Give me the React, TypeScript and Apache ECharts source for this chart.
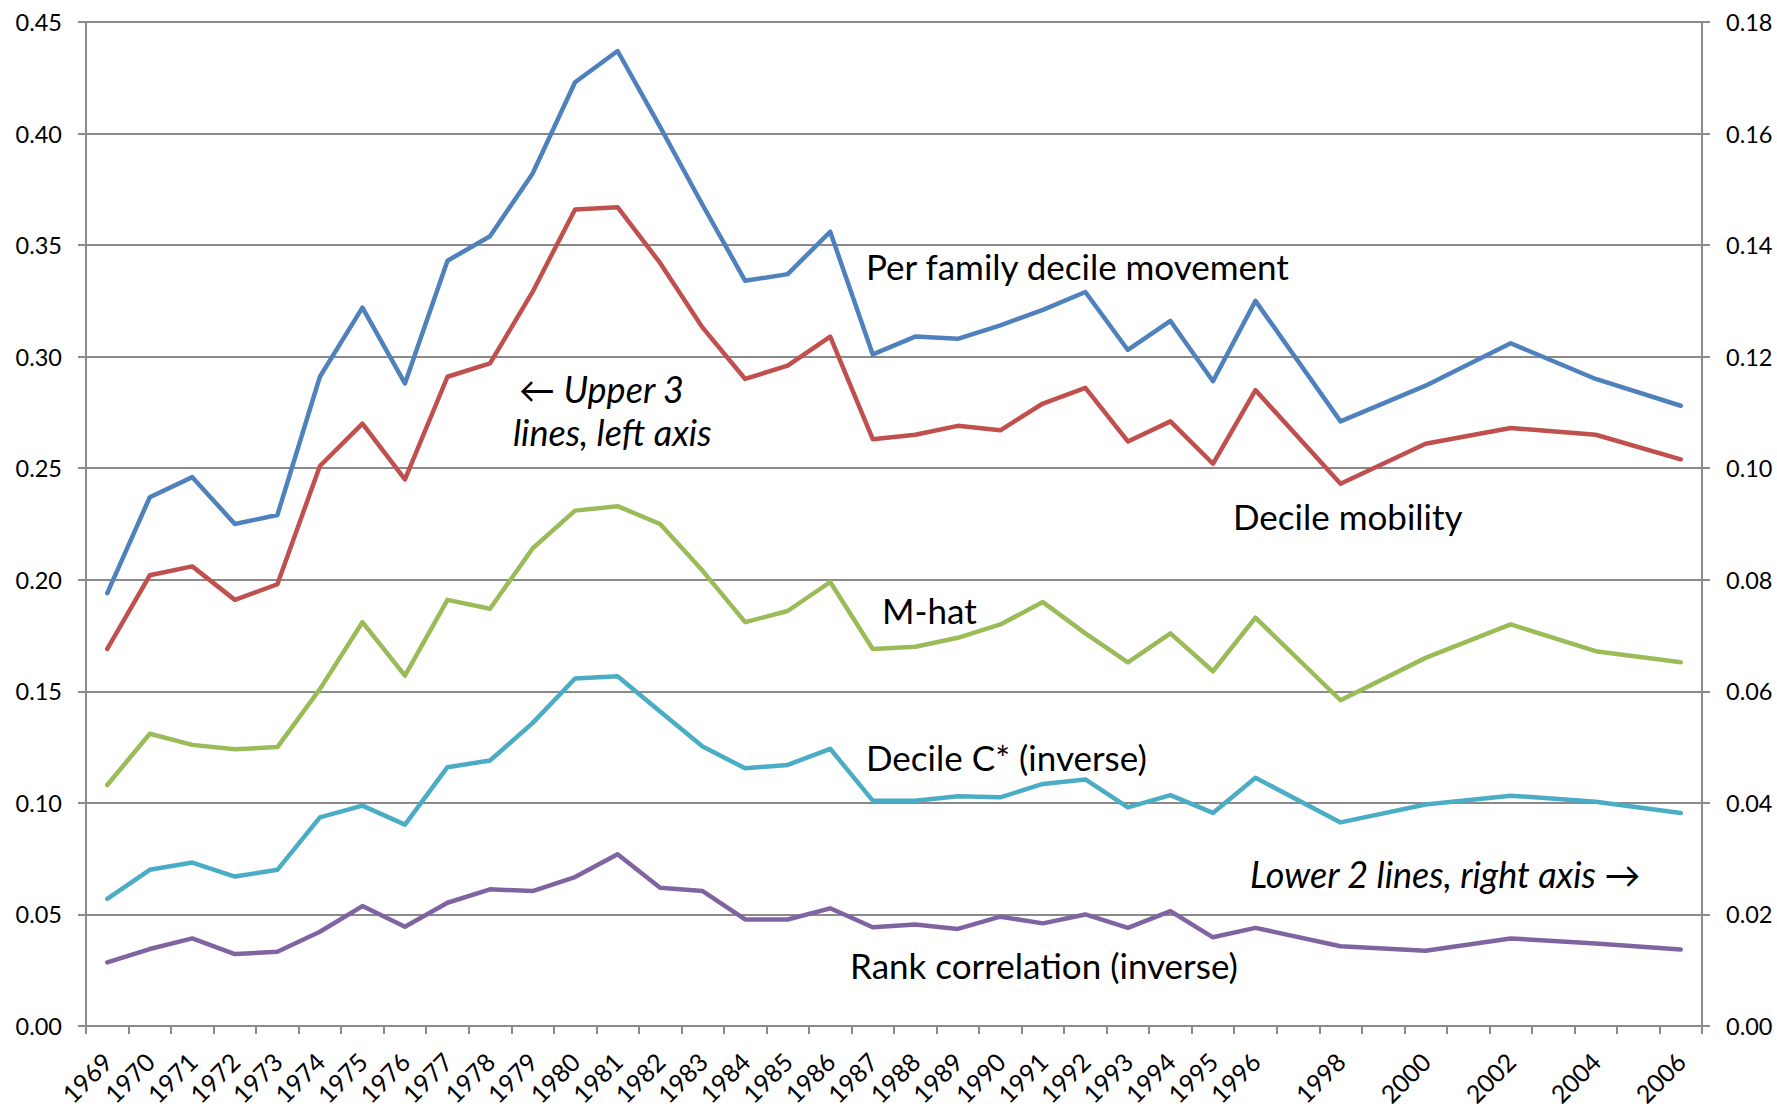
import React, { useEffect, useRef } from "react";
import * as echarts from "echarts";

const years = [
  "1969", "1970", "1971", "1972", "1973", "1974", "1975", "1976", "1977", "1978",
  "1979", "1980", "1981", "1982", "1983", "1984", "1985", "1986", "1987", "1988",
  "1989", "1990", "1991", "1992", "1993", "1994", "1995", "1996", "1997", "1998",
  "1999", "2000", "2001", "2002", "2003", "2004", "2005", "2006",
];

// Left axis series
const perFamilyDecileMovement = [
  0.194, 0.237, 0.246, 0.225, 0.229, 0.291, 0.322, 0.288, 0.343, 0.354,
  0.382, 0.423, 0.437, 0.403, 0.368, 0.334, 0.337, 0.356, 0.301, 0.309,
  0.308, 0.314, 0.321, 0.329, 0.303, 0.316, 0.289, 0.325, null, 0.271,
  null, 0.287, null, 0.306, null, 0.290, null, 0.278,
];
const decileMobility = [
  0.169, 0.202, 0.206, 0.191, 0.198, 0.251, 0.270, 0.245, 0.291, 0.297,
  0.329, 0.366, 0.367, 0.342, 0.313, 0.290, 0.296, 0.309, 0.263, 0.265,
  0.269, 0.267, 0.279, 0.286, 0.262, 0.271, 0.252, 0.285, null, 0.243,
  null, 0.261, null, 0.268, null, 0.265, null, 0.254,
];
const mHat = [
  0.108, 0.131, 0.126, 0.124, 0.125, 0.151, 0.181, 0.157, 0.191, 0.187,
  0.214, 0.231, 0.233, 0.225, 0.204, 0.181, 0.186, 0.199, 0.169, 0.170,
  0.174, 0.180, 0.190, 0.176, 0.163, 0.176, 0.159, 0.183, null, 0.146,
  null, 0.165, null, 0.180, null, 0.168, null, 0.163,
];
// Right axis series
const decileCStarInverse = [
  0.0228, 0.0280, 0.0293, 0.0268, 0.0280, 0.0374, 0.0395, 0.0361, 0.0464, 0.0476,
  0.0543, 0.0623, 0.0627, 0.0564, 0.0501, 0.0462, 0.0468, 0.0497, 0.0404, 0.0404,
  0.0412, 0.0410, 0.0434, 0.0442, 0.0392, 0.0414, 0.0382, 0.0445, null, 0.0365,
  null, 0.0397, null, 0.0413, null, 0.0402, null, 0.0382,
];
const rankCorrelationInverse = [
  0.0114, 0.0138, 0.0157, 0.0129, 0.0133, 0.0169, 0.0215, 0.0178, 0.0221, 0.0245,
  0.0242, 0.0267, 0.0308, 0.0248, 0.0242, 0.0191, 0.0191, 0.0211, 0.0177, 0.0182,
  0.0174, 0.0196, 0.0184, 0.0200, 0.0176, 0.0206, 0.0159, 0.0176, null, 0.0143,
  null, 0.0135, null, 0.0157, null, 0.0148, null, 0.0137,
];

const FONT = "Lato, 'Open Sans', sans-serif";
const GRID_COLOR = "#8a8a8a";

export default function App() {
  const ref = useRef<HTMLDivElement>(null);
  useEffect(() => {
    if (!ref.current) return;
    const chart = echarts.init(ref.current, null, { renderer: "svg" });
    const line = (name: string, data: (number | null)[], color: string, yAxisIndex: number) => ({
      name,
      type: "line",
      data,
      yAxisIndex,
      connectNulls: true,
      showSymbol: false,
      symbol: "none",
      lineStyle: { color, width: 4.5, join: "round", cap: "round" },
      itemStyle: { color },
    });
    const txt = (text: string, x: number, y: number, italic = false) => ({
      type: "text",
      x,
      y,
      style: {
        text,
        fill: "#000",
        fontSize: italic ? 36 : 35,
        fontFamily: FONT,
        fontStyle: italic ? "italic" : "normal",
        verticalAlign: "middle",
        align: "left",
      },
    });
    chart.setOption({
      animation: false,
      backgroundColor: "#fff",
      grid: { left: 86, right: 75, top: 22, bottom: 83, containLabel: false },
      xAxis: {
        type: "category",
        data: years,
        boundaryGap: true,
        axisLine: { lineStyle: { color: GRID_COLOR, width: 2 } },
        axisTick: { show: true, interval: 0, length: 8, lineStyle: { color: GRID_COLOR, width: 2 } },
        axisLabel: {
          interval: 0,
          rotate: 45,
          margin: 31,
          color: "#000",
          fontSize: 25,
          fontFamily: FONT,
          formatter: (v: string) => {
            const y = Number(v);
            return y > 1996 && y % 2 === 1 ? "" : v;
          },
        },
      },
      yAxis: [
        {
          type: "value",
          min: 0,
          max: 0.45,
          interval: 0.05,
          position: "left",
          axisLine: { show: true, lineStyle: { color: GRID_COLOR, width: 2 } },
          axisTick: { show: true, length: 8, lineStyle: { color: GRID_COLOR, width: 2 } },
          splitLine: { show: true, lineStyle: { color: GRID_COLOR, width: 2 } },
          axisLabel: {
            color: "#000",
            fontSize: 23.5,
            fontFamily: FONT,
            margin: 24,
            formatter: (v: number) => v.toFixed(2),
          },
        },
        {
          type: "value",
          min: 0,
          max: 0.18,
          interval: 0.02,
          position: "right",
          axisLine: { show: true, lineStyle: { color: GRID_COLOR, width: 2 } },
          axisTick: { show: true, length: 8, lineStyle: { color: GRID_COLOR, width: 2 } },
          splitLine: { show: false },
          axisLabel: {
            color: "#000",
            fontSize: 23.5,
            fontFamily: FONT,
            margin: 24,
            formatter: (v: number) => v.toFixed(2),
          },
        },
      ],
      series: [
        line("Rank correlation (inverse)", rankCorrelationInverse, "#8064A2", 1),
        line("Decile C* (inverse)", decileCStarInverse, "#4BACC6", 1),
        line("M-hat", mHat, "#9BBB59", 0),
        line("Decile mobility", decileMobility, "#C0504D", 0),
        line("Per family decile movement", perFamilyDecileMovement, "#4F81BD", 0),
      ],
      graphic: [
        txt("Per family decile movement", 866, 266),
        txt("\u2190 Upper 3", 519, 389, true),
        txt("lines, left axis", 513, 432, true),
        txt("Decile mobility", 1233, 516),
        txt("M-hat", 882, 610),
        txt("Decile C* (inverse)", 866, 757),
        txt("Lower 2 lines, right axis \u2192", 1250, 874, true),
        txt("Rank correlation (inverse)", 850, 965),
      ],
    });
    return () => chart.dispose();
  }, []);
  return (
    <div
      ref={ref}
      style={{ position: "fixed", left: 0, top: 0, width: 1777, height: 1109, background: "#fff" }}
    />
  );
}
